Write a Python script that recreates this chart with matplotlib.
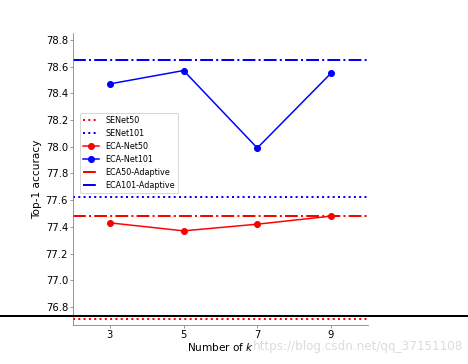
import matplotlib
matplotlib.use("Agg")
import matplotlib.pyplot as plt
from matplotlib.lines import Line2D

# data
ks = [3, 5, 7, 9]
eca50 = [77.43, 77.37, 77.42, 77.48]
eca101 = [78.47, 78.57, 77.99, 78.55]
senet50 = 76.71
senet101 = 77.62
eca50_adaptive = 77.48
eca101_adaptive = 78.65

fig = plt.figure(figsize=(6.5, 364 / 72), dpi=72)
ax = fig.add_axes([0.156, 0.107, 0.63, 0.802])

ax.axhline(senet50, color="red", linestyle=":", linewidth=2, label="SENet50")
ax.axhline(senet101, color="blue", linestyle=":", linewidth=2, label="SENet101")
ax.plot(ks, eca50, "o-", color="red", linewidth=1.5, markersize=6, label="ECA-Net50")
ax.plot(ks, eca101, "o-", color="blue", linewidth=1.5, markersize=6, label="ECA-Net101")
ax.axhline(eca50_adaptive, color="red", linestyle="-.", linewidth=2, label="ECA50-Adaptive")
ax.axhline(eca101_adaptive, color="blue", linestyle="-.", linewidth=2, label="ECA101-Adaptive")

ax.set_xlim(2, 10)
ax.set_ylim(76.665, 78.85)
ax.set_xticks(ks)
ax.set_yticks([76.8, 77.0, 77.2, 77.4, 77.6, 77.8, 78.0, 78.2, 78.4, 78.6, 78.8])
ax.tick_params(labelsize=10, color="#808080", length=3, pad=2)
for s in ["top", "right"]:
    ax.spines[s].set_visible(False)
for s in ["left", "bottom"]:
    ax.spines[s].set_color("#808080")

ax.set_xlabel("Number of $k$", fontsize=10.5, labelpad=1)
ax.set_ylabel("Top-1 accuracy", fontsize=10.5)
ax.legend(loc="upper left", bbox_to_anchor=(0.01, 0.74), fontsize=8)

# black rule across the figure
fig.add_artist(Line2D([0, 1], [0.132, 0.132], transform=fig.transFigure,
                      color="black", linewidth=2))
fig.text(0.54, 0.047, "https://blog.csdn.net/qq_37151108", fontsize=12,
         color="#dcdcdc", ha="left", va="center")

fig.savefig("out.png", dpi=72)
